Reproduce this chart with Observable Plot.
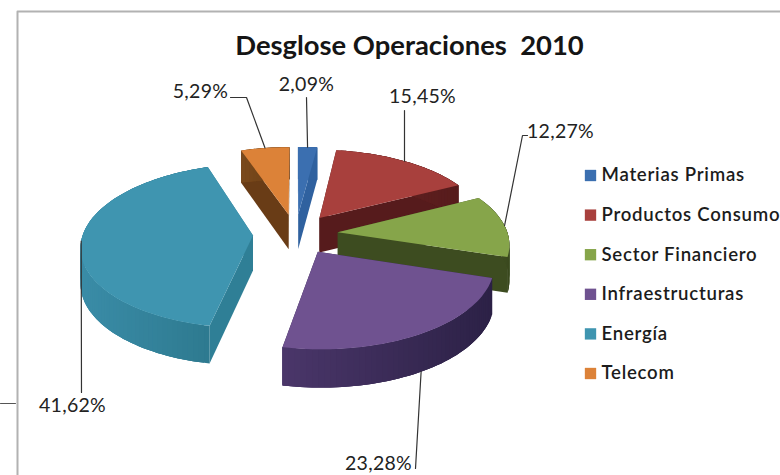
<!DOCTYPE html>
<html>
<head>
<meta charset="utf-8">
<script src="https://cdn.jsdelivr.net/npm/d3@7"></script>
<script src="https://cdn.jsdelivr.net/npm/@observablehq/plot@0.6"></script>
<style>
  html, body { margin: 0; padding: 0; background: #fff; }
  svg { display: block; }
  .legend-text { letter-spacing: 0.75px; }
  .value-text { letter-spacing: 0.3px; }
</style>
</head>
<body>
<div id="chart"></div>
<script>
// Portfolio breakdown, in percent, clockwise from twelve o'clock.
const sectors = ["Materias Primas", "Productos Consumo", "Sector Financiero", "Infraestructuras", "Energía", "Telecom"];
const shares = [2.09, 15.45, 12.27, 23.28, 41.62, 5.29];

const topColors = ["#3b6fb0", "#a8403d", "#86a54a", "#6f5290", "#3f95b0", "#dc8238"];
const cutColors = ["#2f619f", "#561b1c", "#3d4c20", "#35274f", "#2f7f96", "#693c16"];
const wallFrom = ["#2f619f", "#6a2422", "#4a5c26", "#4a3669", "#3a8ca7", "#7a4a1c"];
const wallTo = ["#2f619f", "#561b1c", "#3b491f", "#2c2146", "#2e7a90", "#693c16"];

// Camera model of the tilted disc: plane coordinates (u, v) with v pointing away from the viewer.
const W = 780, H = 475;
const cx = 295, cy = 233.5, rx = 170, ry = 80.5, perspective = 0.125, thickness = 35, explode = 0.25;
const project = (u, v) => {
  const s = 1 + perspective * v;
  return [cx + rx * u / s, cy - ry * v / s];
};
const drop = (v) => thickness / (1 + 0.07 * v);

const toRad = (pct) => (pct / 100) * 2 * Math.PI;
let running = 0;
const slices = shares.map((share, i) => {
  const a0 = toRad(running);
  running += share;
  const a1 = toRad(running);
  const mid = (a0 + a1) / 2;
  return {i, share, a0, a1, mid, ou: explode * Math.sin(mid), ov: explode * Math.cos(mid)};
});

// Polygons are collected far-to-near so that nearer slices paint over farther ones.
const polys = [];
let polyId = 0;
const addPoly = (pts, fill) => {
  const id = polyId++;
  pts.forEach(([x, y]) => polys.push({id, x, y, fill}));
};
const topPoint = (s, a) => {
  const u = s.ou + Math.sin(a), v = s.ov + Math.cos(a);
  return project(u, v);
};
const lower = (s, a) => {
  const v = s.ov + Math.cos(a);
  const [x, y] = topPoint(s, a);
  return [x, y + drop(v)];
};

[...slices].sort((p, q) => Math.cos(q.mid) - Math.cos(p.mid)).forEach((s) => {
  const apex = project(s.ou, s.ov);
  const apexLow = [apex[0], apex[1] + drop(s.ov)];
  const col = s.i;
  addPoly([apex, topPoint(s, s.a0), lower(s, s.a0), apexLow], cutColors[col]);
  addPoly([apex, topPoint(s, s.a1), lower(s, s.a1), apexLow], cutColors[col]);
  const steps = Math.max(4, Math.ceil((s.a1 - s.a0) / 0.03));
  const angle = (k) => s.a0 + (s.a1 - s.a0) * Math.min(k, steps) / steps;
  // The outer wall is shaded facet by facet; each facet reaches under the next to hide seams.
  const xs = d3.range(steps + 1).map((k) => topPoint(s, angle(k))[0]);
  const [xMin, xMax] = d3.extent(xs);
  const shade = d3.interpolateRgb(wallFrom[col], wallTo[col]);
  for (let k = 0; k < steps; k++) {
    const t = ((xs[k] + xs[k + 1]) / 2 - xMin) / (xMax - xMin);
    const reach = [0, 1, 2, 3].map((j) => angle(k + j));
    addPoly([...reach.map((b) => topPoint(s, b)), ...reach.reverse().map((b) => lower(s, b))], d3.rgb(shade(t)).formatHex());
  }
  const rim = d3.range(steps + 1).map((k) => topPoint(s, angle(k)));
  addPoly([apex, ...rim], topColors[col]);
});

// Leader lines start on the rim at each slice's middle angle and end beside its label.
const fmt = (v) => v.toFixed(2).replace(".", ",") + "%";
const labelPlaces = [
  {x: 306, y: 84, via: [[306, 97]]},
  {x: 422, y: 96, via: [[404, 110]]},
  {x: 560, y: 131, via: [[522, 135], [527, 135]]},
  {x: 378, y: 463, via: [[415, 468]]},
  {x: 72, y: 405, via: [[81, 392]]},
  {x: 200, y: 91, via: [[246, 97], [230, 97]]}
];
const leaders = [];
slices.forEach((s) => {
  const start = s.i === 3 ? lower(s, s.mid) : topPoint(s, s.mid);
  [start, ...labelPlaces[s.i].via].forEach(([x, y]) => leaders.push({i: s.i, x, y}));
});
const valueLabels = slices.map((s) => ({x: labelPlaces[s.i].x, y: labelPlaces[s.i].y, text: fmt(s.share)}));

const legendRows = sectors.map((name, i) => ({name, color: topColors[i], y: 175 + i * 39.6}));

const font = "Lato, 'Liberation Sans', sans-serif";
const chart = Plot.plot({
  width: W,
  height: H,
  margin: 0,
  style: {background: "#fff", fontFamily: font},
  x: {domain: [0, W], range: [0, W], axis: null},
  y: {domain: [0, H], range: [0, H], axis: null},
  color: {type: "identity"},
  marks: [
    Plot.line([[17, 475], [17, 11], [780, 11]], {x: (d) => d[0], y: (d) => d[1], stroke: "#b2b2b2", strokeWidth: 2}),
    Plot.line([[0, 403], [15, 403]], {x: (d) => d[0], y: (d) => d[1], stroke: "#555", strokeWidth: 1}),
    Plot.line(polys, {x: "x", y: "y", z: "id", fill: "fill", curve: "linear-closed"}),
    Plot.line(leaders, {x: "x", y: "y", z: "i", stroke: "#333", strokeWidth: 1.2}),
    Plot.text(valueLabels, {x: "x", y: "y", text: "text", fontSize: 19.5, fill: "#222", className: "value-text"}),
    Plot.text(["Desglose Operaciones  2010"], {x: () => 409, y: () => 46, fontSize: 27.4, fontWeight: 700, fill: "#151515"}),
    Plot.dot(legendRows, {x: () => 590, y: "y", symbol: "square", r: 6.4, fill: "color", stroke: null}),
    Plot.text(legendRows, {x: () => 601, y: "y", text: "name", textAnchor: "start", fontSize: 18.6, fontWeight: 600, fill: "#1c1c1c", className: "legend-text"})
  ]
});
document.getElementById("chart").append(chart);
</script>
</body>
</html>
